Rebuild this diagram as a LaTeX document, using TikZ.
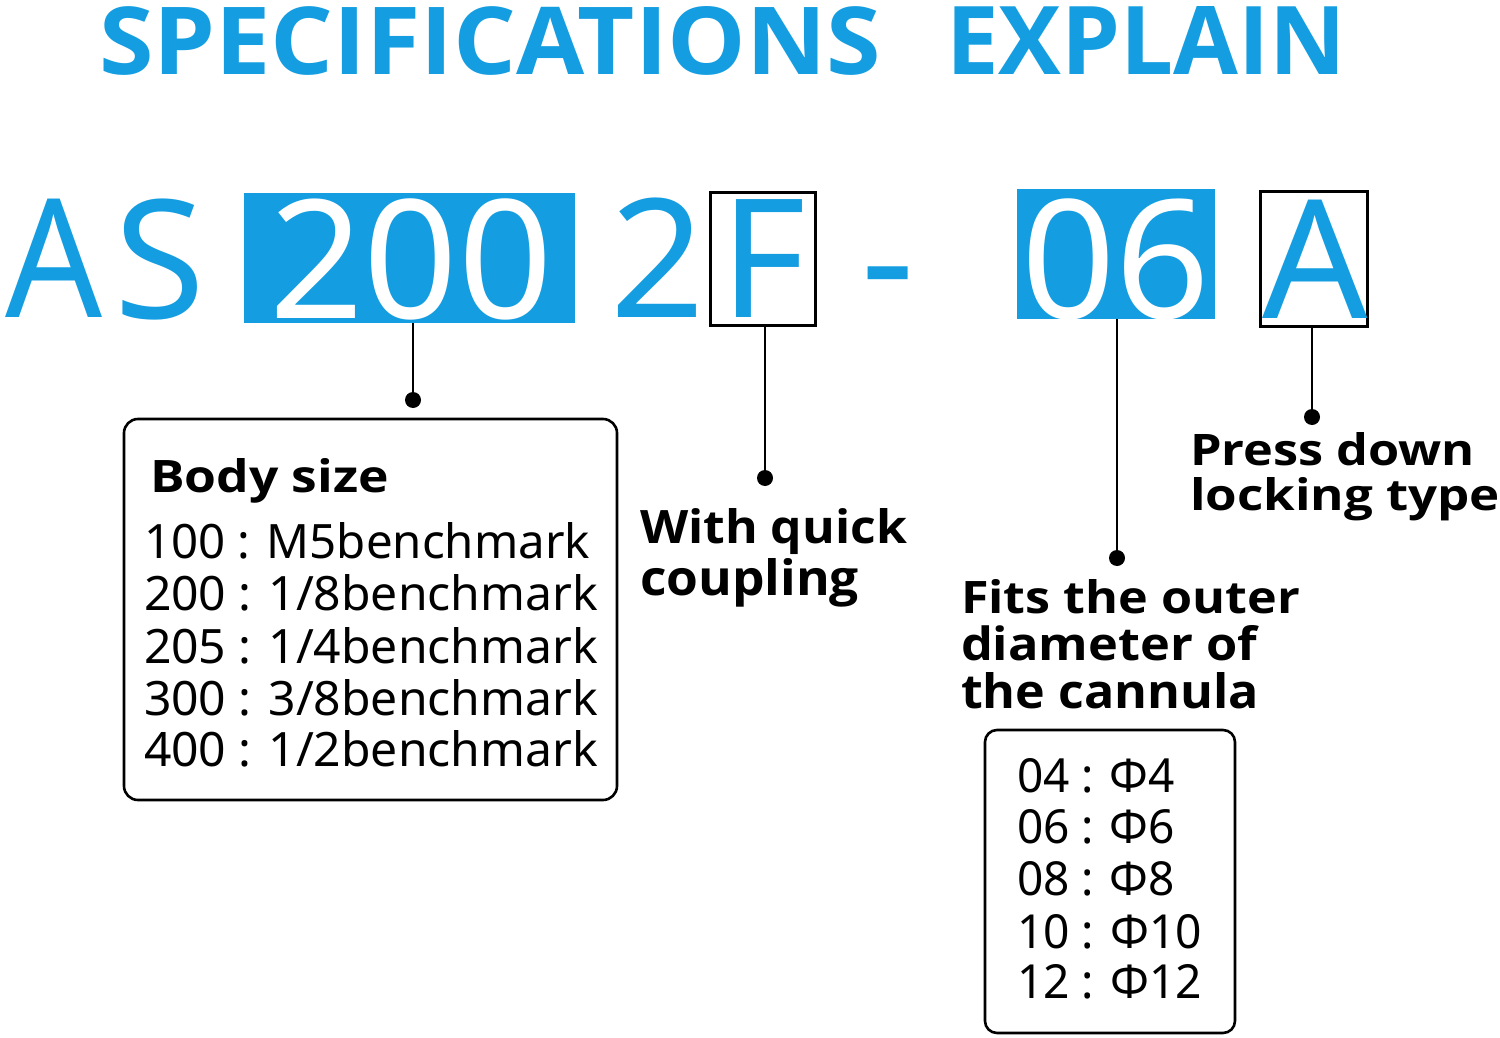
\documentclass[tikz,border=0pt]{standalone}
\usepackage{fontspec}
\setmainfont{Noto Sans}
\IfFontExistsTF{Noto Sans Bold}
  {\newfontfamily\specbold{Noto Sans Bold}}
  {\IfFontExistsTF{Open Sans Bold}
     {\newfontfamily\specbold{Open Sans Bold}}
     {\newfontfamily\specbold{Noto Sans}[FakeBold=3]}}
\IfFontExistsTF{Open Sans SemiBold}
  {\newfontfamily\specsemi{Open Sans SemiBold}}
  {\let\specsemi\specbold}
\usepackage{graphicx}
\definecolor{specblue}{RGB}{20,158,225}
\newcommand\fitwh[3]{\resizebox{\dimexpr #1pt/2\relax}{\dimexpr #2pt/2\relax}{#3}}
\begin{document}
\begin{tikzpicture}[x=0.5pt,y=-0.5pt,
  txt/.style={inner sep=0pt, outer sep=0pt, anchor=base west},
  big/.style={inner sep=0pt, outer sep=0pt, anchor=base, font=\fontsize{82.6pt}{90pt}\selectfont},
  bluebox/.style={fill=specblue, draw=none, inner sep=0pt, outer sep=0pt},
  blackbox/.style={draw=black, line width=1.5pt, inner sep=0pt, outer sep=0pt},
  listbox/.style={draw=black, line width=1.3pt, rounded corners=7pt, inner sep=0pt, outer sep=0pt},
  conn/.style={draw=black, line width=1pt},
  dot/.style={circle, fill=black, inner sep=0pt, minimum size=8pt}]
\fill[white] (0,0) rectangle (1500,1038);
\useasboundingbox (0,0) rectangle (1500,1038);

% title
\node[txt, text=specblue] (t1) at (99,75) {\fitwh{782}{68}{\specbold SPECIFICATIONS}};
\node[txt, text=specblue] (t2) at (946,75) {\fitwh{400}{68}{\specbold EXPLAIN}};

% code boxes
\node[bluebox, minimum width=165.5pt, minimum height=65pt] (b200) at (409.5,258) {};
\node[bluebox, minimum width=99pt, minimum height=65pt] (b06) at (1116,254) {};
\node[blackbox, minimum width=52.5pt, minimum height=66pt] (bF) at (762.5,259) {};
\node[blackbox, minimum width=53.5pt, minimum height=67pt] (bA) at (1313.5,259) {};

% big characters
\node[big, text=specblue, xscale=0.92] (cA) at (54.5,317) {A};
\node[big, text=specblue] (cS) at (160,318) {S};
\node[big, text=white] (c200) at (411,318) {200};
\node[big, text=specblue] (c2) at (657.5,317) {2};
\node[big, text=specblue] (cF) at (763,317) {F};
\node[big, text=specblue] (cdash) at (888,317) {-};
\node[big, text=white] (c06) at (1115.5,318) {06};
\node[big, text=specblue] (cA2) at (1315,318) {A};

% dots and connectors
\node[dot] (d1) at (413,400) {};
\node[dot] (d2) at (765,478) {};
\node[dot] (d3) at (1117,558) {};
\node[dot] (d4) at (1312,417) {};
\draw[conn] (d1 |- b200.south) -- (d1.center);
\draw[conn] (d2 |- bF.south) -- (d2.center);
\draw[conn] (d3 |- b06.south) -- (d3.center);
\draw[conn] (d4 |- bA.south) -- (d4.center);

% body size box
\node[listbox, minimum width=246.5pt, minimum height=190.5pt] (bodybox) at (370.5,609.5) {};
\node[txt] (bodyhead) at (150,492) {\fitwh{239}{34}{\specsemi Body size}};
\node[txt] (l1) at (144,558) {\fitwh{446}{36}{100 : M5benchmark}};
\node[txt] (l2) at (144,610) {\fitwh{454}{36}{200 : 1/8benchmark}};
\node[txt] (l3) at (144,663) {\fitwh{454}{36}{205 : 1/4benchmark}};
\node[txt] (l4) at (144,715) {\fitwh{454}{36}{300 : 3/8benchmark}};
\node[txt] (l5) at (144,766) {\fitwh{454}{36}{400 : 1/2benchmark}};

% labels
\node[txt] (wq1) at (640,543) {\fitwh{267}{35}{\specsemi With quick}};
\node[txt] (wq2) at (640,595) {\fitwh{219}{37}{\specsemi coupling}};
\node[txt] (pd1) at (1190,465) {\fitwh{285}{33}{\specsemi Press down}};
\node[txt] (pd2) at (1190,510) {\fitwh{310}{33}{\specsemi locking type}};
\node[txt] (ft1) at (961,613) {\fitwh{339}{34}{\specsemi Fits the outer}};
\node[txt] (ft2) at (961,660) {\fitwh{296}{35}{\specsemi diameter of}};
\node[txt] (ft3) at (961,708) {\fitwh{298}{36}{\specsemi the cannula}};

% diameter box
\node[listbox, rounded corners=6pt, minimum width=125pt, minimum height=151.5pt] (phibox) at (1110,881.5) {};
\node[txt] (p1) at (1017,792) {\fitwh{158}{34}{04 : Φ4}};
\node[txt] (p2) at (1017,843) {\fitwh{158}{34}{06 : Φ6}};
\node[txt] (p3) at (1017,895) {\fitwh{158}{34}{08 : Φ8}};
\node[txt] (p4) at (1017,948) {\fitwh{185}{34}{10 : Φ10}};
\node[txt] (p5) at (1017,998) {\fitwh{185}{34}{12 : Φ12}};
\end{tikzpicture}
\end{document}
